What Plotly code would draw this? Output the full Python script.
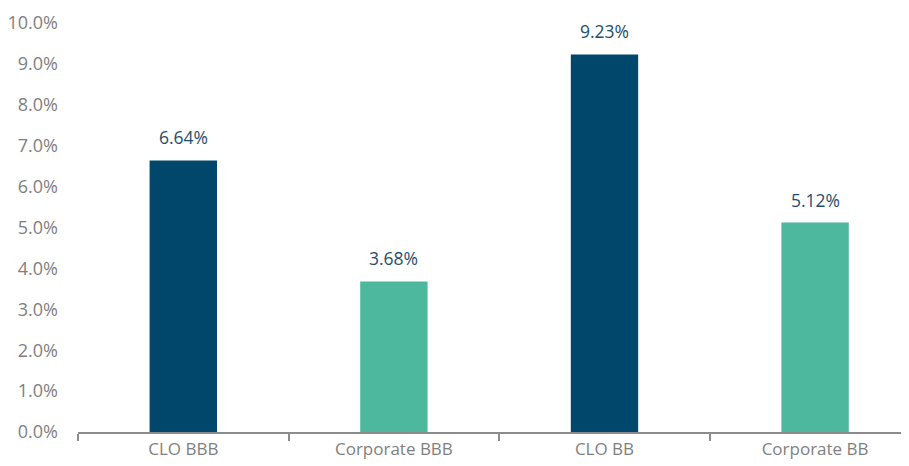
import plotly.graph_objects as go

categories = ["CLO BBB", "Corporate BBB", "CLO BB", "Corporate BB"]
values = [6.64, 3.68, 9.23, 5.12]
labels = ["6.64%", "3.68%", "9.23%", "5.12%"]
colors = ["#00476B", "#4DB89E", "#00476B", "#4DB89E"]
ytick_vals = [0, 1, 2, 3, 4, 5, 6, 7, 8, 9, 10]
ytick_text = ["0.0%", "1.0%", "2.0%", "3.0%", "4.0%", "5.0%", "6.0%", "7.0%", "8.0%", "9.0%", "10.0%"]

fig = go.Figure(go.Bar(
    x=categories, y=values,
    marker=dict(color=colors, line=dict(width=0)),
    width=0.32,
    cliponaxis=False,
))

for c, v, t in zip(categories, values, labels):
    fig.add_annotation(x=c, y=v, text=t, showarrow=False, yanchor="bottom", yshift=9,
                       font=dict(color="#1F4E6E", size=17.5, family="Open Sans"))

fig.update_layout(
    width=901, height=458,
    margin=dict(l=70, r=0, t=15, b=34),
    paper_bgcolor="white", plot_bgcolor="white",
    showlegend=False,
    font=dict(family="Open Sans", color="#7F7F7F", size=18),
    xaxis=dict(
        type="category", range=[-0.5, 3.446], automargin=False,
        showline=True, linecolor="#8C8C8C", linewidth=2,
        ticks="outside", tickson="boundaries", ticklen=7, tickcolor="#8C8C8C", tickwidth=2,
        ticklabelstandoff=1,
        showgrid=False, tickfont=dict(size=17, color="#7F7F7F"),
    ),
    yaxis=dict(
        range=[0, 10], tickvals=ytick_vals, ticktext=ytick_text, automargin=False,
        showgrid=False, zeroline=False, showline=False,
        ticks="", ticklabelstandoff=19,
        tickfont=dict(size=18, color="#7F7F7F"),
    ),
)

fig.write_html("out.html")
